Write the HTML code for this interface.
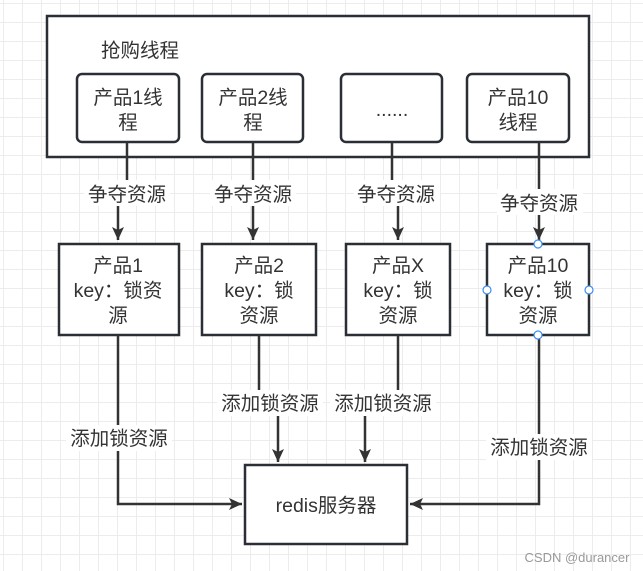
<!DOCTYPE html>
<html><head><meta charset="utf-8"><style>
body{margin:0;width:643px;height:571px;overflow:hidden;background:#fff;
background-image:linear-gradient(#ececec 1px,transparent 1px),linear-gradient(90deg,#ececec 1px,transparent 1px);
background-size:19px 19px;background-position:3px 3px;}
svg{position:absolute;left:0;top:0}
text{font-family:"Liberation Sans","Noto Sans CJK SC",sans-serif;font-size:19.5px;fill:#333;text-anchor:middle}
</style></head><body>
<svg width="643" height="571" viewBox="0 0 643 571">
<defs><marker id="b" markerWidth="14" markerHeight="14" refX="13" refY="6" orient="auto" markerUnits="userSpaceOnUse"><path d="M0,0 L13,6 L0,12 L3,6Z" fill="#333"/></marker></defs>
<g fill="#fff" stroke="#2a2f35" stroke-width="2.5">
<rect x="47" y="16" width="542" height="141"/>
<rect x="77" y="74" width="102" height="68" rx="5"/>
<rect x="202" y="74" width="101" height="68" rx="5"/>
<rect x="341" y="74" width="101" height="68" rx="5"/>
<rect x="467" y="74" width="102" height="68" rx="5"/>
<rect x="59" y="244" width="120" height="91"/>
<rect x="202" y="244" width="114" height="91"/>
<rect x="346" y="244" width="104" height="91"/>
<rect x="487" y="244" width="102" height="91"/>
<rect x="245" y="465" width="162" height="79"/>
</g>
<g stroke="#333" stroke-width="2.5" fill="none">
<path d="M127 142 V200 M118 200 V240" marker-end="url(#b)"/>
<path d="M253 142 V240" marker-end="url(#b)"/>
<path d="M392 142 V200 M398 200 V240" marker-end="url(#b)"/>
<path d="M539 142 V240" marker-end="url(#b)"/>
<path d="M118 335 V504 H242" marker-end="url(#b)"/>
<path d="M259 335 V400 M278 400 V462" marker-end="url(#b)"/>
<path d="M398 335 V400 M365 400 V462" marker-end="url(#b)"/>
<path d="M539 335 V504 H410" marker-end="url(#b)"/>
</g>
<g fill="#fff">
<rect x="84" y="180" width="86" height="26"/><rect x="210" y="180" width="86" height="26"/>
<rect x="354" y="180" width="86" height="26"/><rect x="497" y="189" width="86" height="26"/>
<rect x="66" y="425" width="106" height="26"/><rect x="217" y="390" width="106" height="26"/>
<rect x="330" y="390" width="106" height="26"/><rect x="486" y="434" width="106" height="26"/>
</g>
<text x="140" y="57">抢购线程</text>
<text x="128" y="104">产品1线</text><text x="128" y="129">程</text>
<text x="253" y="104">产品2线</text><text x="253" y="129">程</text>
<text x="392" y="116">......</text>
<text x="518" y="104">产品10</text><text x="518" y="129">线程</text>
<text x="127" y="201">争夺资源</text><text x="253" y="201">争夺资源</text>
<text x="396" y="201">争夺资源</text><text x="539" y="210">争夺资源</text>
<text x="118" y="272">产品1</text><text x="118" y="297">key：锁资</text><text x="118" y="322">源</text>
<text x="259" y="272">产品2</text><text x="259" y="297">key：锁</text><text x="259" y="322">资源</text>
<text x="398" y="272">产品X</text><text x="398" y="297">key：锁</text><text x="398" y="322">资源</text>
<text x="538" y="272">产品10</text><text x="538" y="297">key：锁</text><text x="538" y="322">资源</text>
<text x="119" y="445">添加锁资源</text><text x="270" y="410">添加锁资源</text>
<text x="383" y="410">添加锁资源</text><text x="539" y="454">添加锁资源</text>
<text x="326" y="512">redis服务器</text>
<text x="577" y="562" style="font-size:13px;fill:#999">CSDN @durancer</text>
<g fill="#fff" stroke="#3d8df5" stroke-width="1.2">
<circle cx="538" cy="244" r="4"/><circle cx="538" cy="335" r="4"/>
<circle cx="487" cy="290" r="4"/><circle cx="589" cy="290" r="4"/>
</g>
</svg>
</body></html>
